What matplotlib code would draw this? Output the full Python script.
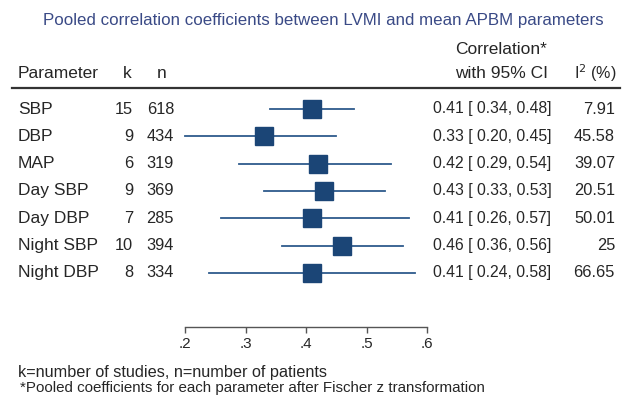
import matplotlib
matplotlib.use("Agg")
import matplotlib.pyplot as plt

plt.rcParams['font.family'] = ['Liberation Sans', 'DejaVu Sans']

params = ["SBP", "DBP", "MAP", "Day SBP", "Day DBP", "Night SBP", "Night DBP"]
k_vals = [15, 9, 6, 9, 7, 10, 8]
n_vals = [618, 434, 319, 369, 285, 394, 334]
corr = [0.41, 0.33, 0.42, 0.43, 0.41, 0.46, 0.41]
ci_low = [0.34, 0.20, 0.29, 0.33, 0.26, 0.36, 0.24]
ci_high = [0.48, 0.45, 0.54, 0.53, 0.57, 0.56, 0.58]
i2 = [7.91, 45.58, 39.07, 20.51, 50.01, 25, 66.65]
xticks = [0.2, 0.3, 0.4, 0.5, 0.6]

W, H = 626, 398
fig = plt.figure(figsize=(W / 100, H / 100), dpi=100)
txt_col = "#262626"
line_col = "#2e5b8c"
box_col = "#1b4576"

# text layer in pixel coords
tx = fig.add_axes([0, 0, 1, 1])
tx.set_xlim(0, W)
tx.set_ylim(H, 0)
tx.axis("off")

row0, dy = 109, 27.3

# forest panel
top_px, bot_px = 90, 327
fx = fig.add_axes([185 / W, (H - bot_px) / H, 242 / W, (bot_px - top_px) / H])
fx.set_xlim(0.2, 0.6)
fx.set_ylim((bot_px - row0) / dy, (top_px - row0) / dy)
for i in range(len(params)):
    fx.plot([ci_low[i], ci_high[i]], [i, i], color=line_col, lw=1.3, clip_on=False)
    fx.plot(corr[i], i, marker="s", ms=13.3, color=box_col, mec=box_col, clip_on=False)
for s in ["top", "left", "right"]:
    fx.spines[s].set_visible(False)
fx.spines["bottom"].set_color("#555555")
fx.spines["bottom"].set_linewidth(1.0)
fx.set_yticks([])
fx.set_xticks(xticks)
fx.set_xticklabels([("%.1f" % t).lstrip("0") for t in xticks], fontsize=11, color=txt_col)
fx.tick_params(axis="x", length=4, width=1, color="#555555", pad=3)
fx.patch.set_alpha(0)

# title and header
tx.text(323, 20, "Pooled correlation coefficients between LVMI and mean APBM parameters",
        ha="center", va="center", fontsize=12.2, color="#3a4a86")
hy = 73
tx.text(18, hy, "Parameter", ha="left", va="center", fontsize=12.5, color=txt_col)
tx.text(123, hy, "k", ha="left", va="center", fontsize=12.5, color=txt_col)
tx.text(157, hy, "n", ha="left", va="center", fontsize=12.5, color=txt_col)
tx.text(455, 49, "Correlation*", ha="left", va="center", fontsize=12.5, color=txt_col)
tx.text(455, hy, "with 95% CI", ha="left", va="center", fontsize=12.5, color=txt_col)
tx.text(617, hy, r"I$^{2}$ (%)", ha="right", va="center", fontsize=11.5, color=txt_col)
tx.plot([12, 620], [88, 88], color="#333333", lw=1.6)

# rows
for i in range(len(params)):
    y = row0 + dy * i
    tx.text(18, y, params[i], ha="left", va="center", fontsize=12.5, color=txt_col)
    tx.text(133, y, str(k_vals[i]), ha="right", va="center", fontsize=11.8, color=txt_col)
    tx.text(174, y, str(n_vals[i]), ha="right", va="center", fontsize=11.8, color=txt_col)
    tx.text(433, y, f"{corr[i]:.2f} [ {ci_low[i]:.2f}, {ci_high[i]:.2f}]",
            ha="left", va="center", fontsize=11.3, color=txt_col)
    tx.text(615, y, f"{i2[i]:g}", ha="right", va="center", fontsize=11.8, color=txt_col)

# footnotes
tx.text(18, 373, "k=number of studies, n=number of patients", ha="left", va="center",
        fontsize=11.7, color=txt_col)
tx.text(20, 388, "*Pooled coefficients for each parameter after Fischer z transformation",
        ha="left", va="center", fontsize=10.9, color=txt_col)

fig.savefig("out.png", dpi=100, facecolor="white")
